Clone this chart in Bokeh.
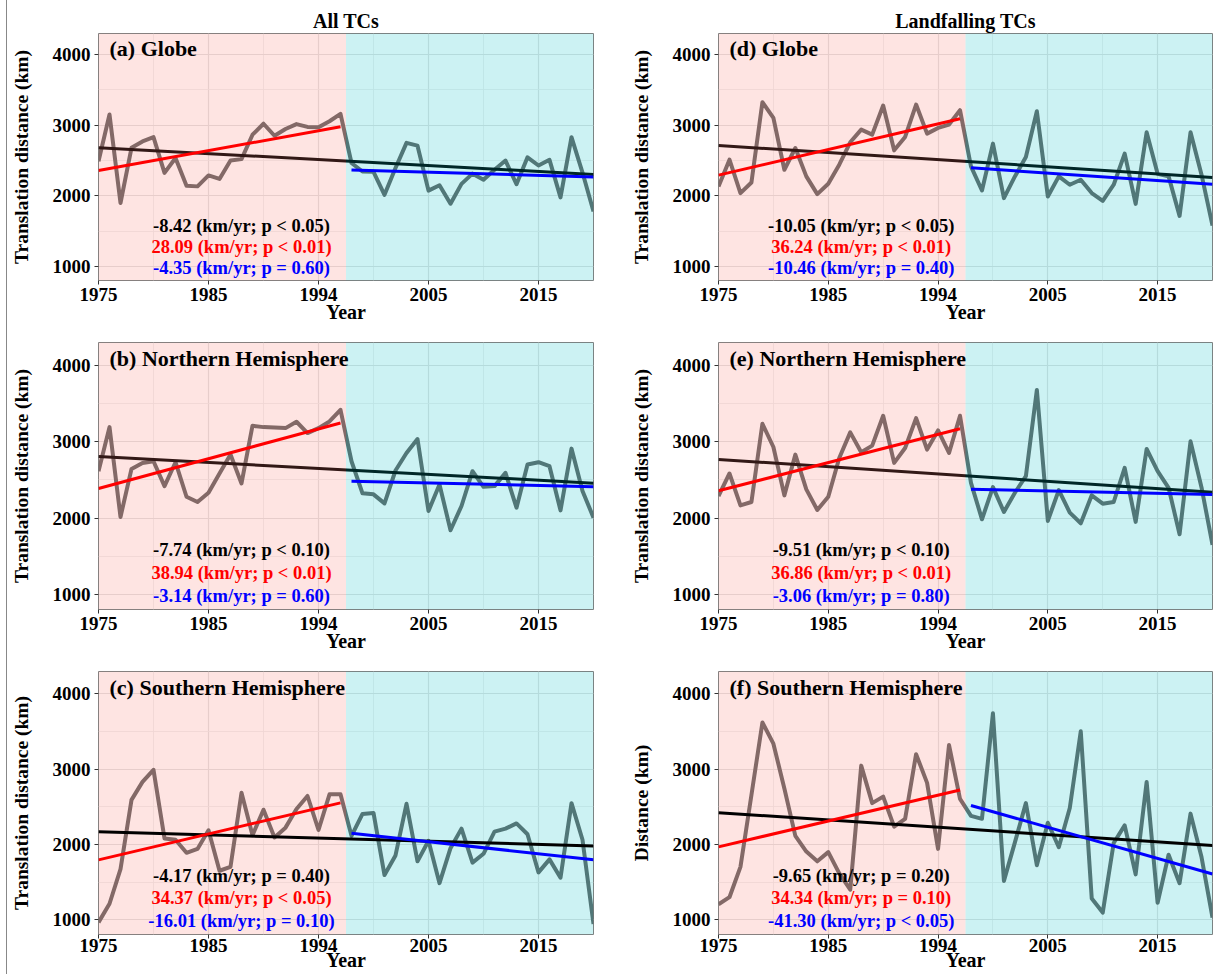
import numpy as np
from bokeh.plotting import figure
from bokeh.models import Range1d, FixedTicker, ColumnDataSource, Spacer
from bokeh.layouts import row, column
from bokeh.core.properties import value
from bokeh.embed import file_html
from bokeh.resources import INLINE

# ---------------- data ----------------
years = list(range(1975, 2021))
p1_end = 1997
p2_start = 1998

globe_all = [2490, 3150, 1900, 2680, 2770, 2830, 2325, 2535, 2145, 2135, 2290, 2240,
             2500, 2520, 2865, 3020, 2850, 2945, 3015, 2975, 2970, 3055, 3160,
             2465, 2345, 2340, 2015, 2395, 2750, 2710, 2075, 2150, 1890, 2170, 2315,
             2230, 2370, 2500, 2165, 2545, 2430, 2510, 1980, 2830, 2330, 1780]
nh_all = [2613, 3189, 2015, 2643, 2721, 2743, 2418, 2730, 2279, 2210, 2331, 2583,
          2830, 2452, 3207, 3189, 3185, 3176, 3259, 3111, 3176, 3263, 3415,
          2743, 2323, 2310, 2192, 2622, 2851, 3033, 2093, 2440, 1841, 2158, 2613,
          2409, 2418, 2591, 2136, 2700, 2730, 2678, 2101, 2908, 2353, 2006]
sh_all = [966, 1213, 1672, 2591, 2830, 2990, 2080, 2062, 1889, 1941, 2188, 1651,
          1703, 2687, 2123, 2461, 2093, 2223, 2470, 2643, 2192, 2665, 2665,
          2114, 2405, 2418, 1594, 1854, 2539, 1776, 2049, 1486, 1950, 2210, 1759,
          1876, 2171, 2210, 2279, 2136, 1629, 1802, 1559, 2548, 2062, 944]
globe_land = [2134, 2512, 2040, 2190, 3324, 3102, 2370, 2677, 2276, 2025, 2172, 2441,
              2758, 2937, 2866, 3277, 2644, 2833, 3291, 2880, 2961, 3008, 3211,
              2417, 2077, 2739, 1969, 2276, 2550, 3197, 1992, 2276, 2158, 2228, 2040,
              1931, 2158, 2597, 1888, 2899, 2313, 2276, 1718, 2899, 2300, 1580]
nh_land = [2288, 2583, 2166, 2210, 3233, 2929, 2297, 2830, 2375, 2106, 2279, 2786,
           3120, 2860, 2947, 3337, 2721, 2916, 3306, 2895, 3146, 2851, 3337,
           2461, 1984, 2405, 2080, 2331, 2548, 3675, 1963, 2366, 2071, 1932, 2297,
           2188, 2210, 2656, 1950, 2903, 2613, 2396, 1789, 3003, 2400, 1650]
sh_land = [1204, 1300, 1703, 2656, 3618, 3337, 2743, 2114, 1906, 1776, 1898, 1616,
           1399, 3046, 2548, 2635, 2236, 2340, 3198, 2817, 1941, 3319, 2604,
           2379, 2340, 3740, 1516, 2028, 2548, 1724, 2288, 1963, 2483, 3501, 1282,
           1096, 2019, 2253, 1603, 2830, 1226, 1863, 1486, 2409, 1833, 1030]

panel_series = [globe_all, nh_all, sh_all, globe_land, nh_land, sh_land]
panel_labels = ["(a) Globe", "(b) Northern Hemisphere", "(c) Southern Hemisphere",
                "(d) Globe", "(e) Northern Hemisphere", "(f) Southern Hemisphere"]
y_labels = ["Translation distance (km)"] * 5 + ["Distance (km)"]
col_titles = ["All TCs", "Landfalling TCs"]
x_label = "Year"

slope_full = [-8.42, -7.74, -4.17, -10.05, -9.51, -9.65]
slope_p1 = [28.09, 38.94, 34.37, 36.24, 36.86, 34.34]
slope_p2 = [-4.35, -3.14, -16.01, -10.46, -3.06, -41.30]
p_full = ["p < 0.05", "p < 0.10", "p = 0.40", "p < 0.05", "p < 0.10", "p = 0.20"]
p_p1 = ["p < 0.01", "p < 0.01", "p < 0.05", "p < 0.01", "p < 0.01", "p = 0.10"]
p_p2 = ["p = 0.60", "p = 0.60", "p = 0.10", "p = 0.40", "p = 0.80", "p < 0.05"]
black_on_top = [False, False, True, False, False, True]

x_ticks = [1975, 1985, 1995, 2005, 2015]
x_tick_labels = ["1975", "1985", "1994", "2005", "2015"]
x_minor = [1980, 1990, 2000, 2010, 2020]
y_ticks = [1000, 2000, 3000, 4000]
y_minor = [1500, 2500, 3500]

# ---------------- styling ----------------
FONT = "Liberation Serif"
YMIN, YMAX = 805, 4295
FRAME_W = [495, 494]
MB_RIGHT = [34, 1]
FRAME_H = [247, 267, 263]
MB_TOP = [26, 15, 15]
MB_BOTTOM = [47, 47, 41]
TICK_STANDOFF = [3, 3, 0]
XLAB_STANDOFF = [-3, -3, -6]
STAT_X = 1988
STAT_Y = [1580, 1285, 985]
LABEL_X, LABEL_Y = 1976, 4085


def trend(xs, ys, slope):
    xm = float(np.mean(xs))
    ym = float(np.mean(ys))
    return [xs[0], xs[-1]], [ym + slope * (xs[0] - xm), ym + slope * (xs[-1] - xm)]


def make_panel(i):
    col = i // 3
    r = i % 3
    vals = panel_series[i]
    p = figure(frame_width=FRAME_W[col], frame_height=FRAME_H[r],
               x_range=Range1d(years[0], years[-1]), y_range=Range1d(YMIN, YMAX),
               output_backend="svg", toolbar_location=None,
               min_border_left=90, min_border_right=MB_RIGHT[col],
               min_border_top=MB_TOP[r], min_border_bottom=MB_BOTTOM[r],
               title=col_titles[col] if r == 0 else None)
    if p.title is not None:
        if r == 0:
            p.title.align = "center"
            p.title.text_font = FONT
            p.title.text_font_style = "bold"
            p.title.text_font_size = "20px"
            p.title.text_color = "black"
            p.title.standoff = 3
        else:
            p.title.visible = False
    p.background_fill_color = "white"
    p.border_fill_color = "white"
    p.outline_line_color = "#808080"
    p.outline_line_width = 1

    xa = p.xaxis[0]
    ya = p.yaxis[0]
    xa.ticker = FixedTicker(ticks=x_ticks, minor_ticks=x_minor)
    xa.major_label_overrides = {t: l for t, l in zip(x_ticks, x_tick_labels)}
    ya.ticker = FixedTicker(ticks=y_ticks, minor_ticks=y_minor)
    for ax in (xa, ya):
        ax.axis_line_color = None
        ax.major_tick_in = 0
        ax.major_tick_out = 4
        ax.major_tick_line_color = "#333333"
        ax.minor_tick_line_color = None
        ax.major_label_text_font = FONT
        ax.major_label_text_font_style = "bold"
        ax.major_label_text_font_size = "19px"
        ax.major_label_text_color = "black"
        ax.axis_label_text_font = FONT
        ax.axis_label_text_font_style = "bold"
        ax.axis_label_text_color = "black"
    xa.major_label_standoff = TICK_STANDOFF[r]
    xa.axis_label = x_label
    xa.axis_label_standoff = XLAB_STANDOFF[r]
    xa.axis_label_text_font_size = "20px"
    ya.major_label_standoff = 4
    ya.axis_label = y_labels[i]
    ya.axis_label_standoff = 18
    ya.axis_label_text_font_size = "19.5px"

    for g in (p.xgrid, p.ygrid):
        g.grid_line_color = "#E3E3E3"
        g.grid_line_width = 1.2
        g.minor_grid_line_color = "#EDEDED"
        g.minor_grid_line_width = 0.8

    # series line
    p.line(years, vals, line_color="#666666", line_width=4, line_join="round")

    n1 = years.index(p1_end) + 1
    fx, fy = trend(years, vals, slope_full[i])
    x1, y1 = trend(years[:n1], vals[:n1], slope_p1[i])
    x2, y2 = trend(years[n1:], vals[n1:], slope_p2[i])

    if not black_on_top[i]:
        p.line(fx, fy, line_color="black", line_width=3)

    mid = (p1_end + p2_start) / 2
    shade = ColumnDataSource(dict(left=[years[0], mid], right=[mid, years[-1]],
                                  bottom=[YMIN, YMIN], top=[YMAX, YMAX],
                                  color=["#F8766D", "#00BFC4"]))
    p.quad(left="left", right="right", bottom="bottom", top="top", source=shade,
           fill_color="color", fill_alpha=0.2, line_color=None)

    if black_on_top[i]:
        p.line(fx, fy, line_color="black", line_width=3)
    p.line(x1, y1, line_color="#FF0000", line_width=3)
    p.line(x2, y2, line_color="#0000FF", line_width=3)

    stats = [f"{slope_full[i]:.2f} (km/yr; {p_full[i]})",
             f"{slope_p1[i]:.2f} (km/yr; {p_p1[i]})",
             f"{slope_p2[i]:.2f} (km/yr; {p_p2[i]})"]
    src = ColumnDataSource(dict(x=[STAT_X] * 3, y=STAT_Y, text=stats,
                                color=["black", "#FF0000", "#0000FF"]))
    p.text(x="x", y="y", text="text", text_color="color", source=src,
           text_font=value(FONT), text_font_style="bold",
           text_font_size=value("18.5px"), text_align="center", text_baseline="middle")
    p.text(x=[LABEL_X], y=[LABEL_Y], text=[panel_labels[i]], text_color="black",
           text_font=value(FONT), text_font_style="bold",
           text_font_size=value("22px"), text_align="left", text_baseline="middle")
    return p


panels = [make_panel(i) for i in range(6)]
grid = column(Spacer(height=6),
              row(panels[0], panels[3]), row(panels[1], panels[4]), row(panels[2], panels[5]))
vline = Spacer(width=1, height=974, styles={"background-color": "#888888"})
layout = row(Spacer(width=6), vline, grid)

open("out.html", "w").write(file_html(layout, INLINE))
